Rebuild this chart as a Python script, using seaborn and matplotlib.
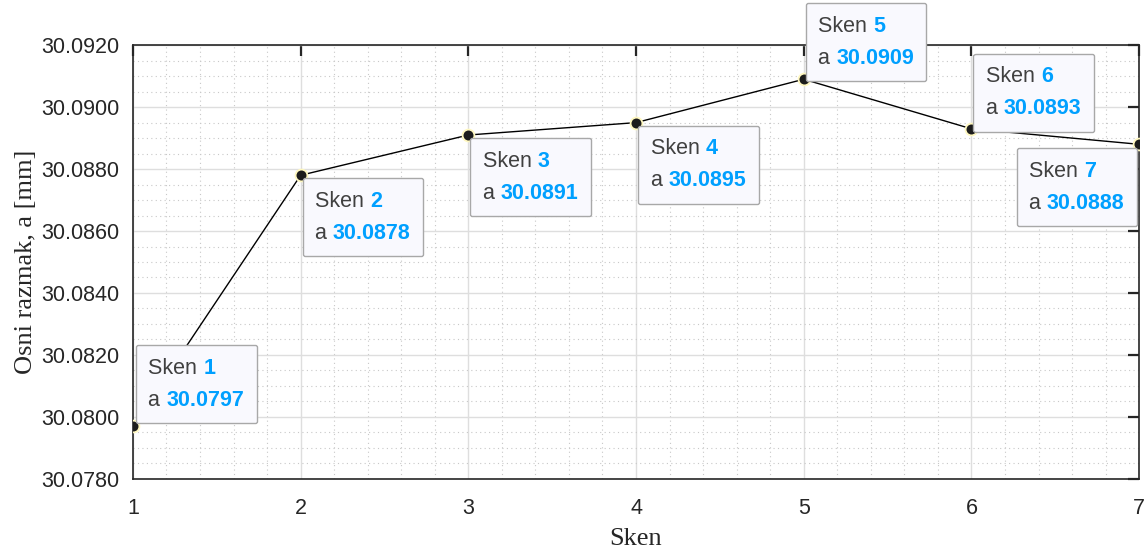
import matplotlib
matplotlib.use("Agg")
from matplotlib import pyplot as plt
from matplotlib.offsetbox import TextArea, HPacker, VPacker, AnnotationBbox
from matplotlib.ticker import MultipleLocator, FormatStrFormatter
import pandas as pd
import seaborn as sns

# data
sken = [1, 2, 3, 4, 5, 6, 7]
razmak = [30.0797, 30.0878, 30.0891, 30.0895, 30.0909, 30.0893, 30.0888]

# datatip placement: (offset px, box alignment) per point
tip_offsets = [(3, 3), (2, -3), (2, -3), (2, -3), (2, -2), (2, -3), (-2, -4)]
tip_align = [(0, 0), (0, 1), (0, 1), (0, 1), (0, 0), (0, 0), (1, 1)]

df = pd.DataFrame({"Sken": sken, "a": razmak})

sns.set_style("white")
plt.rcParams["font.family"] = ["Liberation Sans", "DejaVu Sans"]

fig = plt.figure(figsize=(11.46, 5.51), dpi=100)
ax = fig.add_axes([0.116, 0.131, 0.878, 0.787])

sns.lineplot(data=df, x="Sken", y="a", ax=ax, color="black", linewidth=1,
             marker="o", markersize=8.5, markerfacecolor="#1c1c1c",
             markeredgecolor="#fff8c0", markeredgewidth=1.3, zorder=5)

ax.set_xlim(1, 7)
ax.set_ylim(30.078, 30.092)
ax.xaxis.set_major_locator(MultipleLocator(1))
ax.xaxis.set_minor_locator(MultipleLocator(0.2))
ax.yaxis.set_major_locator(MultipleLocator(0.002))
ax.yaxis.set_minor_locator(MultipleLocator(0.0005))
ax.yaxis.set_major_formatter(FormatStrFormatter("%.4f"))

ax.grid(which="major", color="#dedede", linewidth=1, linestyle="-")
ax.grid(which="minor", color="#c8c8c8", linewidth=0.8, linestyle=(0, (1, 3)))
ax.set_axisbelow(True)

for sp in ax.spines.values():
    sp.set_visible(True)
    sp.set_color("#262626")
    sp.set_linewidth(1.2)

ax.tick_params(which="major", direction="in", length=8, width=1.6,
               top=True, right=True, labelsize=15.5, colors="#262626")
ax.tick_params(axis="x", which="major", pad=14)
ax.tick_params(axis="y", which="major", pad=10)
ax.tick_params(which="minor", length=0)

ax.set_xlabel("Sken", family=["Liberation Serif"], fontsize=19, color="#262626", labelpad=6)
ax.set_ylabel("Osni razmak, a [mm]", family=["Liberation Serif"], fontsize=19,
              color="#262626", labelpad=3)

grey = "#404040"
blue = "#00a0ff"
fs = 15.5
for x, y, off, al in zip(sken, razmak, tip_offsets, tip_align):
    row1 = HPacker(children=[
        TextArea("Sken ", textprops=dict(color=grey, fontsize=fs)),
        TextArea(f"{x}", textprops=dict(color=blue, fontsize=fs, fontweight="bold")),
    ], pad=0, sep=0, align="baseline")
    row2 = HPacker(children=[
        TextArea("a ", textprops=dict(color=grey, fontsize=fs)),
        TextArea(f"{y:.4f}", textprops=dict(color=blue, fontsize=fs, fontweight="bold")),
    ], pad=0, sep=0, align="baseline")
    box = VPacker(children=[row1, row2], pad=9, sep=8, align="left")
    ab = AnnotationBbox(box, (x, y), xybox=(off[0] * 0.72, off[1] * 0.72),
                        boxcoords="offset points", box_alignment=al, pad=0,
                        frameon=True, annotation_clip=False,
                        bboxprops=dict(boxstyle="round,pad=0,rounding_size=0.15",
                                       fc="#f9f9fe", ec="#a8a8a8", lw=1))
    ab.set_zorder(6)
    ax.add_artist(ab)

fig.savefig("out.png", dpi=100)
